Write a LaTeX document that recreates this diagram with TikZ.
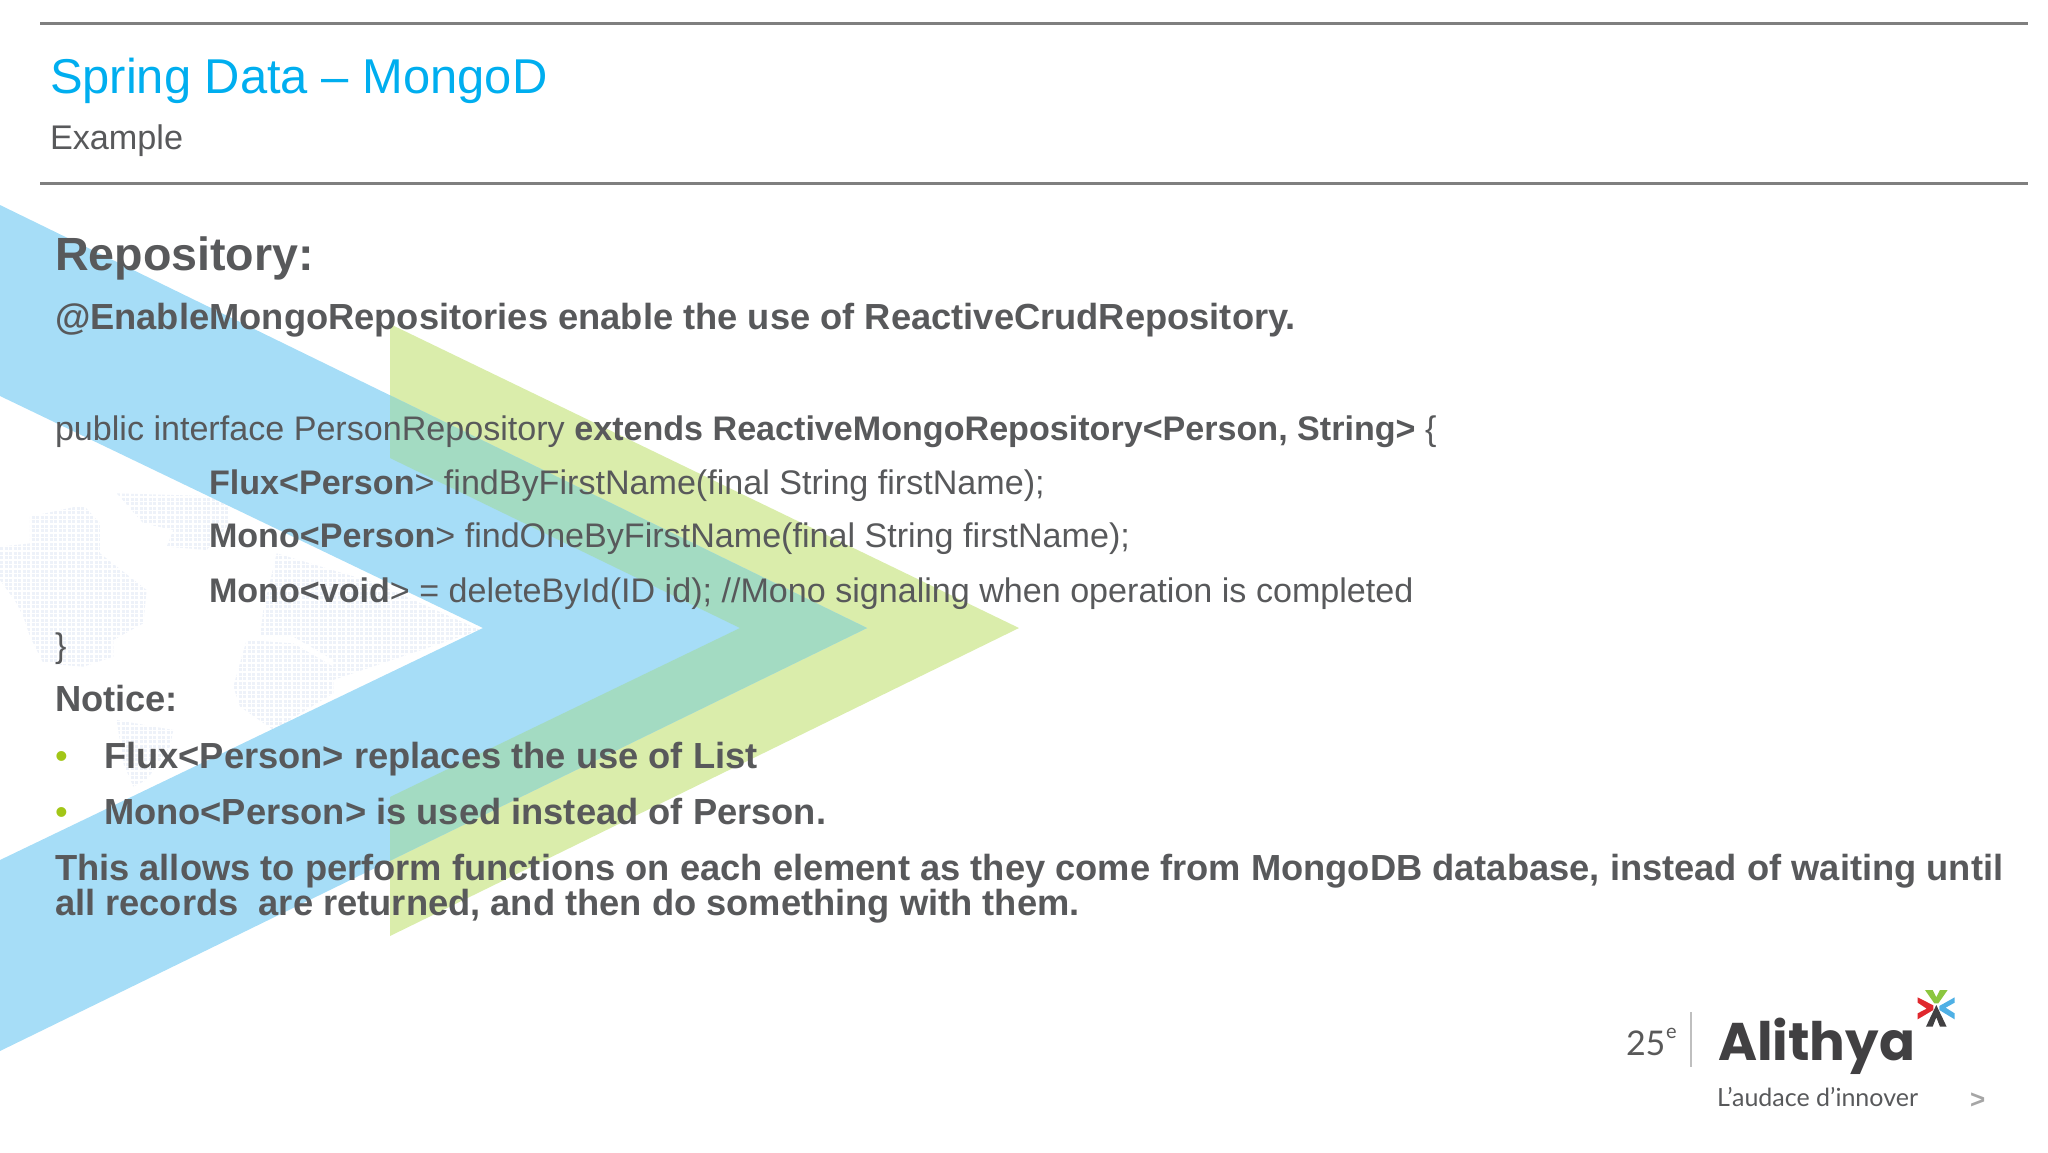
\documentclass[tikz,border=0pt]{standalone}
\usepackage{fontspec}
\setmainfont{Liberation Sans}
\newfontfamily\logofont{Lato}
\newfontfamily\brandfont{Poppins}
\definecolor{bluechev}{HTML}{A6DDF7}
\definecolor{greenchev}{HTML}{DAEDAB}
\definecolor{mixchev}{HTML}{A3DBC2}
\definecolor{titleblue}{HTML}{00AEEF}
\definecolor{bodygray}{HTML}{58595B}
\definecolor{rulegray}{HTML}{7F7F7F}
\definecolor{mapdot}{HTML}{EEF2F9}
\definecolor{bullgreen}{HTML}{A2C617}
\definecolor{logodark}{HTML}{414042}
\definecolor{stargreen}{HTML}{8CC63F}
\definecolor{starblue}{HTML}{4FB0E5}
\definecolor{starred}{HTML}{E0282E}
\tikzset{
    sized/.style={inner sep=0pt, outer sep=0pt, anchor=base west, text=bodygray},
    headline/.style={sized, font=\bfseries\fontsize{46.6}{50}\selectfont},
    bodyline/.style={sized, font=\fontsize{34.1}{38}\selectfont},
    boldline/.style={sized, font=\bfseries\fontsize{36.3}{40}\selectfont},
    bulletmark/.style={sized, text=bullgreen, font=\fontsize{36.3}{40}\selectfont},
    toprule/.style={rulegray, line width=3pt},
}
\begin{document}
\begin{tikzpicture}[x=1pt, y=-1pt]
    \useasboundingbox (0,0) rectangle (2048,1152);

    % World map dots
    \begin{scope}[shift={(0,480)}, x=0.3333pt, y=-0.3333pt]
        \clip (0,200) -- (90,190) -- (90,110) -- (250,75) -- (300,130) -- (300,220) -- (440,330) -- (430,430)
              -- (340,480) -- (340,530) -- (250,560) -- (130,550) -- (90,470) -- (70,410) -- (50,370) -- (0,300) -- cycle
              (350,40) -- (690,50) -- (690,130) -- (620,210) -- (500,200) -- (520,150) -- (430,130) -- cycle
              (830,220) -- (1130,310) -- (1440,450) -- (1000,600) -- (1000,540) -- (880,470) -- (780,470) -- (790,390) -- cycle
              (700,620) -- (740,480) -- (880,490) -- (1000,560) -- (1000,640) -- (820,750) -- (720,680) -- cycle
              (350,720) -- (520,750) -- (510,800) -- (440,900) -- (400,920) -- (370,850) -- cycle;
        \foreach \y in {30,43.5,...,930}
            \draw[mapdot, line width=3pt, dash pattern=on 3pt off 1.5pt] (0,\y) -- (1450,\y);
    \end{scope}

    % Draw the chevrons
    \def\bluepath{(0,205) -- (867,628) -- (0,1051) -- (0,860) -- (483,628) -- (0,396) -- cycle}
    \def\greenpath{(390,324) -- (1019,628) -- (390,936) -- (390,797) -- (740,628) -- (390,458) -- cycle}
    \fill[greenchev] \greenpath;
    \fill[bluechev] \bluepath;
    \begin{scope}
        \clip \bluepath;
        \fill[mixchev] \greenpath;
    \end{scope}

    % Header
    \draw[toprule] (40,23) -- (2028,23);
    \draw[toprule] (40,183) -- (2028,183);
    \node[sized, text=titleblue, font=\fontsize{48.9}{52}\selectfont] (title) at (50,93) {Spring Data – MongoD};
    \node[sized, font=\fontsize{34.2}{38}\selectfont] (subtitle) at (50,149) {Example};

    % Slide text
    \node[headline] (repo) at (55,270) {Repository:};
    \node[boldline] (enable) at (55,329) {@EnableMongoRepositories enable the use of ReactiveCrudRepository.};
    \node[bodyline] (iface) at (55,440) {public interface PersonRepository \textbf{extends ReactiveMongoRepository<Person, String>} \{};
    \node[bodyline] (flux) at (209,494) {\textbf{Flux<Person}> findByFirstName(final String firstName);};
    \node[bodyline] (mono) at (209,547) {\textbf{Mono<Person}> findOneByFirstName(final String firstName);};
    \node[bodyline] (void) at (209,602) {\textbf{Mono<void}> = deleteById(ID id); //Mono signaling when operation is completed};
    \node[bodyline] (brace) at (55,657) {\}};
    \node[boldline] (notice) at (55,711) {Notice:};
    \node[bulletmark] (dotone) at (55,768) {•};
    \node[boldline] (itemone) at (104,768) {Flux<Person> replaces the use of List};
    \node[bulletmark] (dottwo) at (55,824) {•};
    \node[boldline] (itemtwo) at (104,824) {Mono<Person> is used instead of Person.};
    \node[boldline] (allows) at (55,880) {This allows to perform functions on each element as they come from MongoDB database, instead of waiting until};
    \node[boldline] (records) at (55,915) {all records\ \ are returned, and then do something with them.};

    % Logo
    \node[sized, text=black!65, font=\logofont\fontsize{34}{36}\selectfont] (years) at (1626,1055) {25};
    \node[sized, text=black!65, font=\logofont\fontsize{20}{22}\selectfont] (yearsup) at (1666,1038) {e};
    \draw[black!25, line width=1.2pt] (1691,1012) -- (1691,1067);
    \node[sized, text=logodark, font=\brandfont\bfseries\fontsize{53}{58}\selectfont] (brand) at (1718,1060) {Alithya};
    \node[sized, font=\logofont\fontsize{25}{28}\selectfont] (motto) at (1717,1106) {L’audace d’innover};
    \node[sized, text=black!35, font=\bfseries\fontsize{26}{28}\selectfont] (next) at (1970,1108) {>};

    % Logo star
    \begin{scope}[shift={(1580,960)}, x=0.3333pt, y=-0.3333pt]
        \fill[stargreen] (1035,90) -- (1058,90) -- (1069,112) -- (1080,90) -- (1103,90) -- (1075,130) -- (1063,130) -- cycle;
        \fill[starblue] (1124,112) -- (1124,128) -- (1097,143) -- (1124,160) -- (1124,178) -- (1078,150) -- (1078,138) -- cycle;
        \fill[starred] (1013,112) -- (1060,136) -- (1060,150) -- (1013,178) -- (1013,160) -- (1040,146) -- (1013,128) -- cycle;
        \fill[logodark] (1069,135) -- (1100,200) -- (1080,200) -- (1069,172) -- (1058,200) -- (1038,200) -- cycle;
    \end{scope}
\end{tikzpicture}
\end{document}
